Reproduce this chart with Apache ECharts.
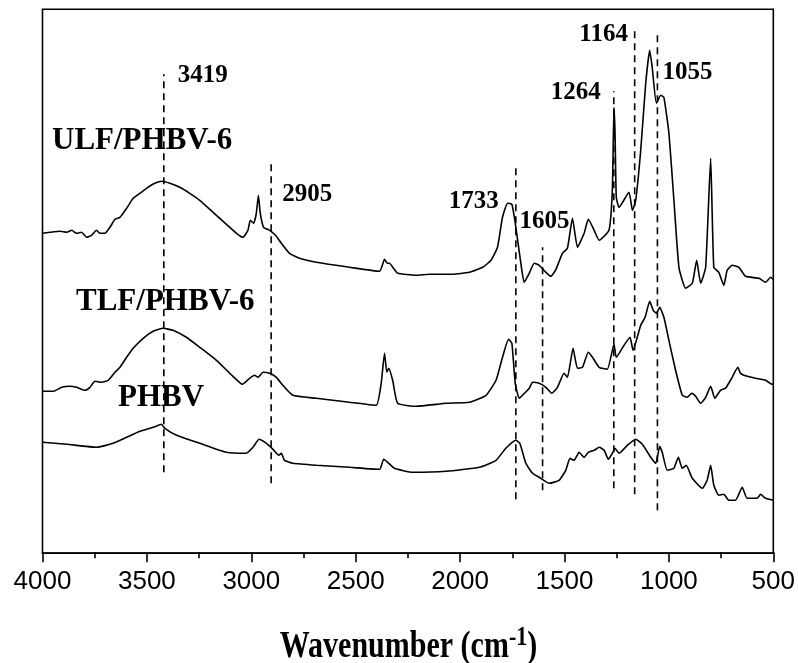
<!DOCTYPE html>
<html>
<head>
<meta charset="utf-8">
<script src="https://cdn.jsdelivr.net/npm/echarts/dist/echarts.min.js"></script>
<style>
  html, body { margin: 0; padding: 0; background: #fff; }
  #chart { width: 798px; height: 663px; }
</style>
</head>
<body>
<div id="chart"></div>
<script>
// FTIR spectra, [wavenumber (cm-1), absorbance (a.u., curves vertically offset)]
const ulfSpectrum = [
  [4000,3.19],[3964,3.20],[3916,3.21],[3884,3.20],[3860,3.22],[3837,3.19],[3813,3.20],[3789,3.15],
  [3765,3.17],[3741,3.22],[3725,3.19],[3701,3.19],[3677,3.25],[3653,3.33],[3629,3.35],[3597,3.44],
  [3566,3.54],[3534,3.59],[3502,3.64],[3462,3.69],[3427,3.71],[3390,3.69],[3343,3.65],[3295,3.59],
  [3247,3.52],[3183,3.40],[3119,3.28],[3071,3.19],[3040,3.15],[3016,3.22],[3005,3.32],[2989,3.29],
  [2976,3.39],[2966,3.57],[2957,3.39],[2941,3.25],[2912,3.22],[2884,3.17],[2856,3.09],[2817,2.99],
  [2769,2.94],[2689,2.90],[2530,2.85],[2386,2.81],[2362,2.93],[2349,2.89],[2339,2.89],[2315,2.83],
  [2299,2.79],[2211,2.77],[2147,2.78],[2036,2.78],[1956,2.80],[1892,2.85],[1852,2.92],[1821,3.05],
  [1797,3.35],[1773,3.49],[1752,3.48],[1733,3.25],[1709,2.89],[1693,2.70],[1669,2.79],[1645,2.89],
  [1621,2.87],[1589,2.80],[1565,2.76],[1541,2.83],[1510,2.99],[1486,3.04],[1462,3.34],[1438,3.05],
  [1406,3.19],[1386,3.33],[1358,3.22],[1334,3.12],[1287,3.22],[1271,3.62],[1263,4.45],[1258,4.19],
  [1252,3.55],[1239,3.45],[1191,3.60],[1175,3.42],[1159,3.52],[1135,4.02],[1111,4.69],[1092,5.02],
  [1080,4.85],[1060,4.49],[1039,4.57],[1024,4.55],[1000,4.19],[976,3.52],[952,2.85],[920,2.64],
  [888,2.69],[867,2.92],[848,2.69],[824,2.85],[800,3.94],[785,2.85],[761,2.80],[737,2.67],
  [721,2.82],[697,2.87],[665,2.85],[633,2.76],[569,2.74],[537,2.70],[513,2.75],[500,2.73]
];

const tlfSpectrum = [
  [4000,1.61],[3948,1.61],[3908,1.65],[3869,1.66],[3837,1.65],[3797,1.62],[3773,1.65],[3749,1.71],
  [3717,1.70],[3685,1.72],[3653,1.80],[3629,1.85],[3597,1.95],[3566,2.04],[3518,2.14],[3470,2.21],
  [3422,2.24],[3375,2.22],[3311,2.15],[3247,2.05],[3167,1.92],[3088,1.76],[3043,1.68],[3008,1.74],
  [2984,1.77],[2968,1.75],[2944,1.80],[2912,1.79],[2880,1.75],[2849,1.67],[2801,1.57],[2689,1.54],
  [2530,1.50],[2402,1.47],[2378,1.69],[2362,1.99],[2351,1.80],[2342,1.84],[2323,1.72],[2299,1.49],
  [2211,1.46],[2067,1.49],[1956,1.50],[1876,1.57],[1828,1.72],[1797,1.95],[1768,2.13],[1752,2.09],
  [1736,1.69],[1717,1.54],[1701,1.57],[1669,1.64],[1653,1.70],[1621,1.69],[1589,1.65],[1561,1.59],
  [1534,1.65],[1502,1.79],[1486,1.75],[1459,2.04],[1438,1.84],[1414,1.85],[1386,2.00],[1366,1.95],
  [1334,1.85],[1295,1.83],[1263,2.08],[1252,1.95],[1215,2.07],[1186,2.15],[1172,2.02],[1135,2.27],
  [1114,2.35],[1092,2.51],[1075,2.42],[1060,2.39],[1044,2.45],[1024,2.35],[1000,2.12],[968,1.82],
  [936,1.57],[912,1.55],[891,1.59],[872,1.56],[848,1.49],[824,1.55],[800,1.66],[780,1.54],
  [753,1.62],[729,1.64],[697,1.75],[670,1.85],[657,1.79],[625,1.76],[585,1.74],[537,1.72],
  [506,1.68],[500,1.68]
];

const phbvSpectrum = [
  [4000,1.10],[3884,1.08],[3741,1.05],[3662,1.09],[3597,1.15],[3534,1.21],[3470,1.25],[3430,1.28],
  [3414,1.24],[3358,1.17],[3247,1.09],[3119,1.00],[3024,0.99],[2992,1.05],[2963,1.13],[2928,1.09],
  [2896,1.03],[2868,0.97],[2856,0.99],[2841,0.92],[2801,0.89],[2689,0.87],[2530,0.85],[2386,0.83],
  [2366,0.93],[2347,0.90],[2315,0.84],[2227,0.80],[2067,0.81],[1908,0.85],[1828,0.92],[1781,1.04],
  [1733,1.12],[1714,1.09],[1685,0.89],[1653,0.79],[1621,0.75],[1573,0.69],[1526,0.72],[1494,0.82],
  [1474,0.94],[1454,0.92],[1430,1.00],[1406,0.95],[1386,1.00],[1358,1.02],[1334,1.05],[1310,1.02],
  [1290,0.93],[1271,0.99],[1258,1.04],[1239,0.99],[1199,1.07],[1159,1.13],[1127,1.08],[1087,0.95],
  [1063,0.89],[1044,1.06],[1032,1.00],[1008,0.82],[976,0.84],[955,0.95],[936,0.84],[917,0.87],
  [888,0.74],[840,0.64],[817,0.72],[800,0.87],[785,0.67],[761,0.57],[737,0.58],[713,0.52],
  [681,0.52],[649,0.65],[625,0.54],[578,0.54],[561,0.58],[537,0.54],[500,0.52]
];

// Assigned bands: wavenumber, label text, and vertical extent of the dashed guide (a.u.)
const bandWavenumbers = [3419, 2905, 1733, 1605, 1264, 1164, 1055];
const bandLabels = ['3419', '2905', '1733', '1605', '1264', '1164', '1055'];
const bandTop = [4.78, 3.89, 3.86, 3.05, 4.61, 5.25, 5.17];
const bandBottom = [0.80, 0.69, 0.53, 0.62, 0.64, 0.58, 0.42];

const sampleNames = ['ULF/PHBV-6', 'TLF/PHBV-6', 'PHBV'];
const axisTitle = 'Wavenumber (cm';
const axisTitleSup = '-1';

// Layout: label offsets (px) from the top of each guide line
const bandLabelOffsets = [[39, 1], [36, 31], [-42, 35], [2, -26], [-38, 1], [-31, 7], [30, 37]];
// Layout: sample name positions (px, left edge / vertical centre)
const sampleNamePos = [[52, 141], [76, 302], [118, 398]];

const serif = '"Liberation Serif", "Times New Roman", serif';
const sans = '"Liberation Sans", Arial, sans-serif';

const chart = echarts.init(document.getElementById('chart'), null, { renderer: 'canvas' });

const spectrumSeries = [ulfSpectrum, tlfSpectrum, phbvSpectrum].map((data, i) => ({
  type: 'line',
  name: sampleNames[i],
  data: data,
  showSymbol: false,
  smooth: 0.15,
  lineStyle: { color: '#000', width: 1.6 },
  z: 3
}));

const guideSeries = bandWavenumbers.map((w, i) => ({
  type: 'line',
  data: [[w, bandBottom[i]], [w, bandTop[i]]],
  showSymbol: false,
  lineStyle: { color: '#000', width: 1.6, type: [7, 5] },
  z: 2
}));

const labelSeries = {
  type: 'scatter',
  symbolSize: 0,
  itemStyle: { color: '#000', opacity: 1 },
  data: bandWavenumbers.map((w, i) => ({
    value: [w, bandTop[i]],
    label: { offset: bandLabelOffsets[i] }
  })),
  label: {
    show: true,
    position: 'inside',
    align: 'center',
    verticalAlign: 'middle',
    formatter: p => bandLabels[p.dataIndex],
    fontFamily: serif,
    fontWeight: 'bold',
    fontSize: 25,
    color: '#000',
    opacity: 1,
    textBorderWidth: 0,
    textBorderColor: 'transparent'
  },
  silent: true,
  z: 4
};

chart.setOption({
  animation: false,
  backgroundColor: '#fff',
  grid: {
    left: 42.5, right: 23.5, top: 9.3, bottom: 109.7,
    show: true, borderColor: '#000', borderWidth: 1.6, backgroundColor: 'transparent'
  },
  xAxis: {
    type: 'value',
    inverse: true,
    min: 500,
    max: 4000,
    interval: 500,
    axisLine: { show: true, lineStyle: { color: '#000', width: 1.6 } },
    axisTick: { show: true, length: 10, lineStyle: { color: '#000', width: 1.6 } },
    minorTick: { show: true, splitNumber: 2, length: 6, lineStyle: { color: '#000', width: 1.6 } },
    splitLine: { show: false },
    axisLabel: {
      color: '#000', fontFamily: sans, fontSize: 26, margin: 16,
      formatter: v => String(v)
    }
  },
  yAxis: {
    type: 'value',
    min: -0.01,
    max: 5.43,
    show: false,
    splitLine: { show: false }
  },
  series: [...guideSeries, ...spectrumSeries, labelSeries],
  graphic: [
    ...sampleNames.map((name, i) => ({
      type: 'text',
      x: sampleNamePos[i][0],
      y: sampleNamePos[i][1],
      z: 10,
      style: {
        text: name,
        font: 'bold 31px ' + serif,
        fill: '#000',
        align: 'left',
        verticalAlign: 'middle'
      }
    })),
    {
      type: 'text',
      x: 408.5,
      y: 645,
      scaleY: 1.25,
      z: 10,
      style: {
        text: '{a|' + axisTitle + '}{s|' + axisTitleSup + '}{a|)}',
        align: 'center',
        verticalAlign: 'middle',
        fill: '#000',
        rich: {
          a: { fontFamily: serif, fontWeight: 'bold', fontSize: 30, fill: '#000', lineHeight: 34, verticalAlign: 'bottom' },
          s: { fontFamily: serif, fontWeight: 'bold', fontSize: 22, fill: '#000', lineHeight: 34, verticalAlign: 'top', padding: [0, 0, 24, 0] }
        }
      }
    }
  ]
});
</script>
</body>
</html>
